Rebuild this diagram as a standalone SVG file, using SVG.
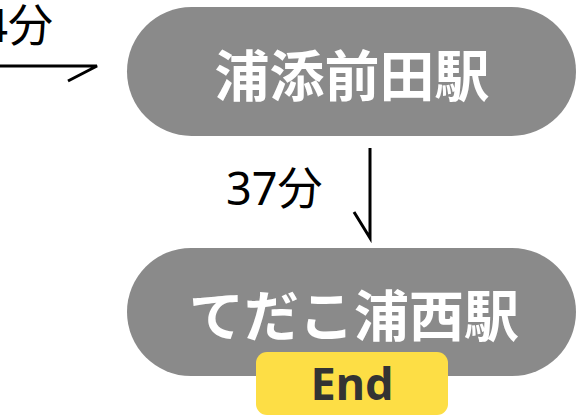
<svg xmlns="http://www.w3.org/2000/svg" width="576" height="417" viewBox="0 0 576 417">
<style>
.pill{fill:#8a8a8a}
.nt{font-family:"Noto Sans CJK JP","Noto Sans",sans-serif;font-weight:bold;fill:#fff;font-size:55px;text-anchor:middle}
.el{font-family:"Noto Sans","Noto Sans CJK JP",sans-serif;fill:#000;font-size:45px}
.ln{stroke:#000;stroke-width:3;fill:none}
</style>
<rect width="576" height="417" fill="#fff"/>
<g id="connectors">
<path class="ln" d="M-5 66 L97 66 L68 81"/>
<text class="el" x="53" y="42" text-anchor="end">4分</text>
<path class="ln" d="M370 148 L370 238 L354 212"/>
<text class="el" x="226" y="205">37分</text>
</g>
<g id="node-urasoe-maeda">
<rect class="pill" x="127" y="7" width="449" height="129" rx="64.5"/>
<text class="nt" x="352" y="96">浦添前田駅</text>
</g>
<g id="node-tedako-uranishi">
<rect class="pill" x="127" y="248" width="449" height="128" rx="64"/>
<text class="nt" x="354" y="336">てだこ浦西駅</text>
</g>
<g id="end-badge">
<rect x="256" y="352" width="192" height="63" rx="11" fill="#fdde45"/>
<text x="352" y="400" font-family="Noto Sans,sans-serif" font-weight="bold" font-size="45" fill="#333" text-anchor="middle">End</text>
</g>
</svg>
